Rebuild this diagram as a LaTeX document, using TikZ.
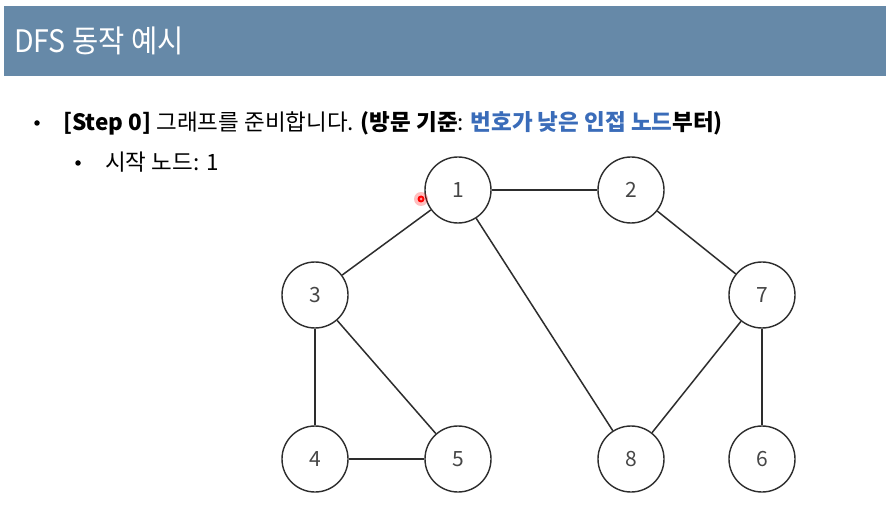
\documentclass[tikz,border=0pt]{standalone}
\usepackage{fontspec}
\setmainfont{Noto Sans CJK KR}
\newfontfamily\titlefont[FakeStretch=0.92]{Noto Sans CJK KR}
\definecolor{barblue}{RGB}{102,137,168}
\definecolor{txtblue}{RGB}{58,108,185}
\definecolor{linegray}{RGB}{45,45,45}
\definecolor{numgray}{RGB}{70,70,70}
\begin{document}
\begin{tikzpicture}[x=1bp,y=-1bp,
  gnode/.style={circle,draw=linegray,line width=1.4bp,minimum size=66bp,inner sep=0pt,
    text=numgray,font=\fontsize{21bp}{24bp}\selectfont},
  gedge/.style={draw=linegray,line width=1.5bp},
  bodytxt/.style={anchor=base west,inner sep=0pt,font=\fontsize{22.5bp}{26bp}\selectfont},
  bulletdot/.style={circle,fill=black,inner sep=0pt,minimum size=5.5bp}]
\useasboundingbox (0,0) rectangle (886,515);
\fill[white] (0,0) rectangle (886,515);
% title bar
\fill[barblue] (4,6) rectangle (886,76);
\node[anchor=base west,inner sep=0pt,text=white,font=\titlefont\fontsize{31bp}{34bp}\selectfont] (title) at (14,53) {DFS 동작 예시};
% bullets
\node[bulletdot] (b1) at (37,123) {};
\node[bodytxt] (l1) at (63,131) {\textbf{[Step 0]} 그래프를 준비합니다. \textbf{(방문 기준}: \textcolor{txtblue}{\textbf{번호가 낮은 인접 노드}}\textbf{부터)}};
\node[bulletdot] (b2) at (78,163) {};
\node[bodytxt] (l2) at (105,171) {시작 노드: 1};
% graph nodes
\node[gnode] (n1) at (458,190) {1};
\node[gnode] (n2) at (631,190) {2};
\node[gnode] (n3) at (315,295) {3};
\node[gnode] (n7) at (762,295) {7};
\node[gnode] (n4) at (315,459) {4};
\node[gnode] (n5) at (458,459) {5};
\node[gnode] (n8) at (631,459) {8};
\node[gnode] (n6) at (762,459) {6};
% edges
\draw[gedge] (n1) -- (n2);
\draw[gedge] (n1) -- (n3);
\draw[gedge] (n1) -- (n8);
\draw[gedge] (n2) -- (n7);
\draw[gedge] (n3) -- (n4);
\draw[gedge] (n3) -- (n5);
\draw[gedge] (n4) -- (n5);
\draw[gedge] (n7) -- (n8);
\draw[gedge] (n7) -- (n6);
% pointer dot
\fill[red,opacity=0.25] (421,199) circle (7);
\fill[red] (421,199) circle (3.5);
\fill[white,opacity=0.6] (421,199) circle (1.5);
\end{tikzpicture}
\end{document}
